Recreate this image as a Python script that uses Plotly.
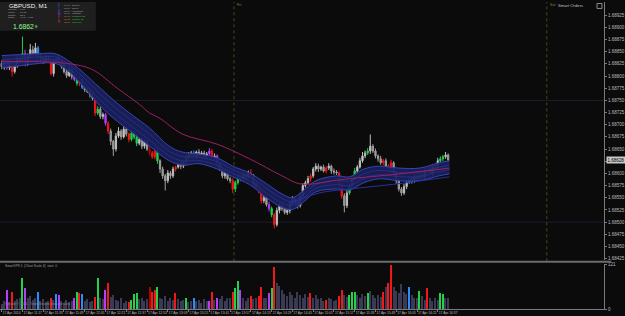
import pandas as pd
import plotly.graph_objects as go

# ---------------- data ----------------
START = "2014-04-17 11:01"
BAR_MINUTES = 2
FIRST_OPEN = 1.68826
CLOSE = [
    1.68819, 1.68830, 1.68817, 1.68826, 1.68809, 1.68823, 1.68834, 1.68830, 1.68846, 1.68826,
    1.68840, 1.68854, 1.68846, 1.68858, 1.68840, 1.68836, 1.68830, 1.68838, 1.68834, 1.68805,
    1.68830, 1.68836, 1.68830, 1.68821, 1.68809, 1.68801, 1.68813, 1.68799, 1.68793, 1.68785,
    1.68789, 1.68777, 1.68772, 1.68768, 1.68762, 1.68754, 1.68724, 1.68732, 1.68717, 1.68721,
    1.68703, 1.68687, 1.68666, 1.68650, 1.68677, 1.68687, 1.68675, 1.68691, 1.68681, 1.68670,
    1.68683, 1.68675, 1.68662, 1.68670, 1.68656, 1.68666, 1.68650, 1.68642, 1.68634, 1.68646,
    1.68626, 1.68609, 1.68595, 1.68585, 1.68601, 1.68595, 1.68609, 1.68613, 1.68620, 1.68615,
    1.68622, 1.68634, 1.68638, 1.68642, 1.68636, 1.68644, 1.68638, 1.68642, 1.68636, 1.68640,
    1.68646, 1.68632, 1.68636, 1.68620, 1.68609, 1.68595, 1.68601, 1.68589, 1.68585, 1.68568,
    1.68581, 1.68593, 1.68589, 1.68597, 1.68593, 1.68601, 1.68595, 1.68579, 1.68573, 1.68564,
    1.68544, 1.68550, 1.68536, 1.68528, 1.68515, 1.68495, 1.68524, 1.68534, 1.68528, 1.68520,
    1.68524, 1.68538, 1.68548, 1.68540, 1.68534, 1.68554, 1.68575, 1.68581, 1.68589, 1.68595,
    1.68609, 1.68615, 1.68609, 1.68613, 1.68605, 1.68611, 1.68615, 1.68605, 1.68603, 1.68601,
    1.68579, 1.68554, 1.68534, 1.68560, 1.68575, 1.68589, 1.68605, 1.68613, 1.68626, 1.68636,
    1.68642, 1.68646, 1.68656, 1.68646, 1.68636, 1.68630, 1.68622, 1.68626, 1.68615, 1.68609,
    1.68622, 1.68601, 1.68585, 1.68568, 1.68560, 1.68573, 1.68581, 1.68589, 1.68585, 1.68593,
    1.68589, 1.68597, 1.68593, 1.68605, 1.68609, 1.68601, 1.68613, 1.68615, 1.68626, 1.68630,
    1.68634, 1.68638, 1.68628,
]
# wick lengths beyond the body, in points (0.00001)
WICK_UP = [
    6, 5, 4, 6, 3, 5, 8, 6, 35, 8, 6, 12, 8, 10, 4, 5, 3, 6, 4, 3,
    5, 4, 6, 3, 4, 5, 6, 3, 4, 5, 4, 6, 3, 4, 5, 3, 4, 6, 5, 4,
    3, 4, 5, 3, 6, 8, 4, 6, 5, 3, 5, 4, 6, 3, 5, 4, 3, 6, 4, 5,
    4, 3, 5, 4, 6, 4, 5, 3, 4, 6, 4, 5, 6, 4, 5, 3, 6, 4, 5, 4,
    6, 4, 5, 3, 4, 5, 6, 3, 4, 5, 4, 6, 3, 5, 4, 5, 8, 4, 3, 5,
    4, 5, 3, 6, 4, 4, 6, 5, 3, 5, 4, 6, 5, 3, 4, 6, 5, 4, 6, 5,
    4, 6, 5, 3, 5, 4, 6, 3, 5, 4, 3, 4, 5, 6, 4, 5, 6, 4, 6, 8,
    5, 6, 24, 4, 5, 3, 6, 4, 5, 4, 6, 3, 4, 5, 4, 6, 3, 5, 4, 5,
    4, 6, 3, 5, 4, 6, 5, 4, 6, 5, 4, 6, 3,
]
WICK_DN = [
    5, 6, 4, 5, 10, 4, 6, 5, 4, 6, 5, 4, 6, 5, 4, 6, 5, 3, 6, 4,
    6, 4, 5, 6, 4, 5, 3, 6, 4, 5, 6, 4, 5, 3, 6, 4, 6, 4, 5, 6,
    5, 6, 8, 14, 5, 4, 6, 3, 5, 6, 4, 5, 6, 4, 6, 5, 4, 6, 4, 5,
    6, 8, 6, 20, 5, 6, 4, 5, 3, 6, 4, 6, 5, 4, 6, 5, 4, 3, 6, 5,
    4, 6, 5, 6, 4, 5, 6, 4, 5, 8, 6, 4, 5, 4, 6, 3, 5, 6, 4, 5,
    6, 5, 4, 6, 5, 8, 4, 6, 5, 4, 5, 6, 4, 5, 6, 4, 5, 4, 3, 6,
    4, 5, 6, 4, 3, 5, 4, 6, 5, 4, 5, 6, 14, 5, 4, 6, 4, 5, 3, 4,
    5, 4, 6, 4, 5, 6, 4, 5, 3, 6, 5, 4, 6, 5, 6, 4, 5, 3, 6, 4,
    5, 4, 6, 5, 4, 3, 6, 4, 5, 4, 5, 4, 6,
]
VOLUME = [
    14, 20, 50, 18, 45, 22, 26, 30, 84, 55, 28, 35, 24, 30, 45, 20, 26, 18, 22, 30,
    24, 40, 38, 20, 16, 24, 18, 22, 30, 45, 42, 40, 20, 26, 18, 22, 32, 84, 30, 26,
    50, 70, 32, 36, 24, 20, 28, 16, 22, 18, 24, 40, 42, 26, 30, 20, 26, 60, 45, 52,
    58, 30, 26, 34, 22, 28, 24, 42, 26, 20, 24, 30, 18, 22, 30, 20, 24, 16, 26, 20,
    22, 45, 24, 30, 26, 34, 22, 28, 30, 45, 55, 76, 52, 28, 22, 30, 34, 26, 30, 34,
    60, 30, 28, 42, 55, 113, 70, 62, 50, 40, 34, 46, 38, 30, 44, 36, 28, 40, 32, 42,
    30, 36, 26, 30, 22, 24, 30, 26, 20, 24, 34, 50, 36, 32, 37, 45, 45, 36, 30, 40,
    34, 42, 48, 36, 30, 38, 32, 45, 60, 70, 118, 58, 48, 42, 68, 46, 40, 60, 36, 30,
    28, 47, 34, 24, 57, 30, 22, 28, 24, 42, 40, 28, 28,
]
# volume/candle class: g=normal, r=red, d=dark red, G=green, m=magenta, b=blue
BAR_TYPE = ("ggmgrgggGm" "ggggbggggr" "gbmgggggmG" "rbggggrGgg" "mrgggggggr"
            "GGGggggdrr" "Gggggggrgg" "gGggbggggg" "mrgmgggggr" "GGmgggrggr"
            "rggmGrgggg" "gggggggggr" "gggggrgggg" "rrggGGGggg" "gGgggggrgr"
            "rggggggbgg" "gGggrggggG" "Ggg")

# moving-average ribbon (minutes after 11:00)
BAND_MIN = [1, 15, 30, 42, 51, 63, 77, 90, 102, 115, 130, 140, 153, 167, 179, 192, 205,
            217, 225, 233, 243, 259, 269, 280, 292, 307, 323, 338, 346]
BAND_UPPER = [1.68842, 1.68844, 1.68846, 1.68846, 1.68834, 1.68809, 1.68775, 1.68744,
              1.68719, 1.68693, 1.68656, 1.68644, 1.68640, 1.68632, 1.68615, 1.68601,
              1.68579, 1.68558, 1.68550, 1.68564, 1.68585, 1.68595, 1.68593, 1.68609,
              1.68615, 1.68611, 1.68611, 1.68622, 1.68626]
BAND_LOWER = [1.68817, 1.68821, 1.68826, 1.68826, 1.68813, 1.68781, 1.68738, 1.68707,
              1.68683, 1.68656, 1.68626, 1.68617, 1.68620, 1.68609, 1.68593, 1.68577,
              1.68550, 1.68530, 1.68526, 1.68540, 1.68562, 1.68568, 1.68566, 1.68581,
              1.68589, 1.68585, 1.68585, 1.68595, 1.68599]
SLOW_MIN = [223, 246, 269, 307, 346]
SLOW_BLUE = [1.68538, 1.68560, 1.68568, 1.68579, 1.68593]
MA_MIN = [1, 51, 71, 90, 107, 115, 123, 140, 167, 192, 217, 230, 243, 256, 269, 307, 346]
MA_MAGENTA = [1.68830, 1.68826, 1.68813, 1.68775, 1.68742, 1.68724, 1.68713, 1.68681,
              1.68660, 1.68630, 1.68595, 1.68579, 1.68579, 1.68585, 1.68589, 1.68599,
              1.68611]

TICK_TIMES = ["11:01", "11:17", "11:33", "11:49", "12:05", "12:21", "12:37", "12:53",
              "13:09", "13:25", "13:41", "13:57", "14:13", "14:29", "14:45", "15:01",
              "15:17", "15:33", "15:49", "16:05", "16:21", "16:37"]
TICK_TEXT = ["17 Apr 2014"] + ["17 Apr " + t for t in TICK_TIMES[1:]]
PRICE_TICKS = [1.68425, 1.68450, 1.68475, 1.68500, 1.68525, 1.68550, 1.68575, 1.68600,
               1.68625, 1.68650, 1.68675, 1.68700, 1.68725, 1.68750, 1.68775, 1.68800,
               1.68825, 1.68850, 1.68875, 1.68900, 1.68925]
LEVELS = [1.68750, 1.68500]
MARKERS = [("14:00", "Fri"), ("18:01", "Sat")]
LAST_PRICE = 1.68628
VOL_MAX = 121

SESSION_ROWS = [("S", "00:00", "Sydney"), ("T", "02:00", "Tokyo"), ("H", "03:00", "Hongkong"),
                ("M", "06:00", "Moscow"), ("F", "09:00", "Frankfurt (B)"),
                ("L", "10:00", "London (B)"), ("N", "15:00", "NewYork")]
INFO_ROWS = [("Spread:", "1.60"), ("LoPip:", "11.35"), ("Range:", "25.7"), ("Swap:", "-1.36  -0.22")]

# ---------------- build ----------------
DAY = pd.Timestamp("2014-04-17 11:00")
times = pd.date_range(START, periods=len(CLOSE), freq=f"{BAR_MINUTES}min")
opens = [FIRST_OPEN] + CLOSE[:-1]
highs = [max(o, c) + u / 1e5 for o, c, u in zip(opens, CLOSE, WICK_UP)]
lows = [min(o, c) - d / 1e5 for o, c, d in zip(opens, CLOSE, WICK_DN)]


def tm(m):
    return DAY + pd.Timedelta(minutes=m)


W, H = 605, 309          # plot area in px
def px(x): return x / W
def py(y): return (H - y) / H

PX_PER_MIN = 1.3
x_left = pd.Timestamp(START) - pd.Timedelta(minutes=1.7 / PX_PER_MIN)
x_right = x_left + pd.Timedelta(minutes=W / PX_PER_MIN)

BG = "#0b0b0b"
AXIS = "#7a7a7a"
TXT = "#bdbdbd"
COLORS = {"r": "#f01818", "d": "#b00000", "G": "#22d04a", "m": "#b63cff", "b": "#2a8cff"}
VOL_GRAY = "#3a3a55"

fig = go.Figure()

# ribbon
band_t = [tm(m) for m in BAND_MIN]
fig.add_trace(go.Scatter(x=band_t, y=BAND_UPPER, mode="lines", line=dict(color="#3646ae", width=1, shape="spline"),
                         hoverinfo="skip", showlegend=False))
fig.add_trace(go.Scatter(x=band_t, y=BAND_LOWER, mode="lines", line=dict(color="#3646ae", width=1, shape="spline"),
                         fill="tonexty", fillcolor="rgba(27,33,96,0.92)", hoverinfo="skip", showlegend=False))
for f in (0.33, 0.66):
    inner = [l + (u - l) * f for u, l in zip(BAND_UPPER, BAND_LOWER)]
    fig.add_trace(go.Scatter(x=band_t, y=inner, mode="lines", line=dict(color="#2b378c", width=0.7, shape="spline"),
                             hoverinfo="skip", showlegend=False))
fig.add_trace(go.Scatter(x=[tm(m) for m in SLOW_MIN], y=SLOW_BLUE, mode="lines",
                         line=dict(color="#2630a0", width=1, shape="spline"), hoverinfo="skip", showlegend=False))
fig.add_trace(go.Scatter(x=[tm(m) for m in MA_MIN], y=MA_MAGENTA, mode="lines",
                         line=dict(color="#9c2064", width=1, shape="spline"), hoverinfo="skip", showlegend=False))

# candles by class
for key in ["g", "r", "d", "G", "m", "b"]:
    idx = [i for i, t in enumerate(BAR_TYPE) if t == key]
    if not idx:
        continue
    if key == "g":
        inc = dict(line=dict(color="#bcbcbc", width=1), fillcolor="#e4e4e4")
        dec = dict(line=dict(color="#a0a0a0", width=1), fillcolor="#8a8a8a")
    else:
        c = COLORS[key]
        inc = dict(line=dict(color=c, width=1), fillcolor=c)
        dec = dict(line=dict(color=c, width=1), fillcolor=c)
    fig.add_trace(go.Candlestick(
        x=[times[i] for i in idx], open=[opens[i] for i in idx], high=[highs[i] for i in idx],
        low=[lows[i] for i in idx], close=[CLOSE[i] for i in idx],
        increasing=inc, decreasing=dec, whiskerwidth=0, showlegend=False, hoverinfo="skip",
        xaxis="x", yaxis="y"))

# volume
fig.add_trace(go.Bar(x=times, y=VOLUME, width=60000 * 1.0,
                     marker=dict(color=[COLORS.get(t, VOL_GRAY) for t in BAR_TYPE], line=dict(width=0)),
                     xaxis="x", yaxis="y2", showlegend=False, hoverinfo="skip"))

shapes = []
for lv in LEVELS:
    shapes.append(dict(type="line", xref="paper", yref="y", x0=0, x1=1, y0=lv, y1=lv,
                       line=dict(color="#1e1e32", width=1), layer="below"))
main_bottom = py(261)
for t, _ in MARKERS:
    mt = pd.Timestamp("2014-04-17 " + t)
    shapes.append(dict(type="line", xref="x", yref="paper", x0=mt, x1=mt, y0=main_bottom, y1=1,
                       line=dict(color="#4a4a1a", width=1, dash="dot"), layer="below"))
# window separator
shapes.append(dict(type="line", xref="paper", yref="paper", x0=0, x1=1.012, y0=py(261.5), y1=py(261.5),
                   line=dict(color="#6c6c6c", width=2)))
# info panel
shapes.append(dict(type="rect", xref="paper", yref="paper", x0=0, x1=px(96), y0=py(29), y1=1,
                   fillcolor="#1f1f1f", line=dict(width=0)))

ann = []
def text(x, y, s, size, color, anchor="left", family="Liberation Sans"):
    ann.append(dict(x=px(x), y=py(y), xref="paper", yref="paper", text=s, showarrow=False,
                    xanchor=anchor, yanchor="middle", font=dict(size=size, color=color, family=family)))

text(7, 4, "GBPUSD, M1", 6.2, "#f0f0f0")
for k, (lab, val) in enumerate(INFO_ROWS):
    yy = 8.0 + k * 2.6
    text(6, yy, lab, 2.5, "#a8a8a8")
    text(18, yy, val, 2.5, "#a8a8a8")
text(11, 24.6, "1.6862", 6.8, "#8cff8c")
text(33, 25.0, "8", 4.2, "#8cff8c")
LETTER_COLORS = ["#3a5cff", "#3a5cff", "#3a5cff", "#9a48ff", "#e03030", "#e03030", "#e03030"]
for k, (let, tt, name) in enumerate(SESSION_ROWS):
    yy = 3.5 + k * 2.85
    text(56.5, yy, let, 2.6, LETTER_COLORS[k])
    text(62, yy, tt, 2.4, "#9a9a9a" if k < 4 else "#d08a30")
    text(70, yy, name, 2.4, "#b0b0b0" if k < 4 else "#40c040")

for t, lab in MARKERS:
    mt = pd.Timestamp("2014-04-17 " + t)
    ann.append(dict(x=mt, y=py(3.5), xref="x", yref="paper", text=lab, showarrow=False,
                    xanchor="left", yanchor="middle", xshift=1,
                    font=dict(size=3.6, color="#8a8a2a", family="Liberation Sans")))
text(557, 4, "Smart Orders", 4.2, "#c0c0c0")
shapes.append(dict(type="rect", xref="paper", yref="paper", x0=px(598), x1=px(603), y0=py(6.5), y1=py(1.5),
                   line=dict(color="#c0c0c0", width=0.7)))
text(3, 266, "SmartVPS 5  [Chart Scale 4]  start: 0", 3.2, "#a0a0a0")
text(3, 303.5, "Indicator © 2014 - Trade Sessions Indicator Corp", 3.0, "#8a8a8a")

# current price tag
ann.append(dict(x=1, y=LAST_PRICE, xref="paper", yref="y", text=f"{LAST_PRICE:.5f}", showarrow=False,
                xanchor="left", yanchor="middle", xshift=2, bgcolor="#c8c8c8", borderpad=0.5,
                font=dict(size=4.5, color="#000000", family="Liberation Sans")))

axis_common = dict(showgrid=False, zeroline=False, showline=True, linecolor=AXIS, linewidth=1,
                   ticks="outside", ticklen=2, tickcolor=AXIS,
                   tickfont=dict(size=4.5, color=TXT, family="Liberation Sans"))

fig.update_layout(
    width=625, height=316, margin=dict(l=0, r=20, t=0, b=7),
    paper_bgcolor=BG, plot_bgcolor=BG, showlegend=False, bargap=0,
    xaxis=dict(type="date", range=[x_left, x_right], rangeslider=dict(visible=False), anchor="y2",
               tickvals=[pd.Timestamp("2014-04-17 " + t) for t in TICK_TIMES], ticktext=TICK_TEXT,
               ticklabelposition="outside right", tickangle=0,
               **{**axis_common, "tickfont": dict(size=3.3, color=TXT, family="Liberation Sans")}),
    yaxis=dict(domain=[py(260), 1], range=[1.684216, 1.68952], side="right", anchor="x",
               tickvals=PRICE_TICKS, tickformat=".5f", **axis_common),
    yaxis2=dict(domain=[0, py(264)], range=[0, VOL_MAX], side="right", anchor="x",
                tickvals=[0, VOL_MAX], **axis_common),
    shapes=shapes, annotations=ann,
)

fig.write_html("out.html")
